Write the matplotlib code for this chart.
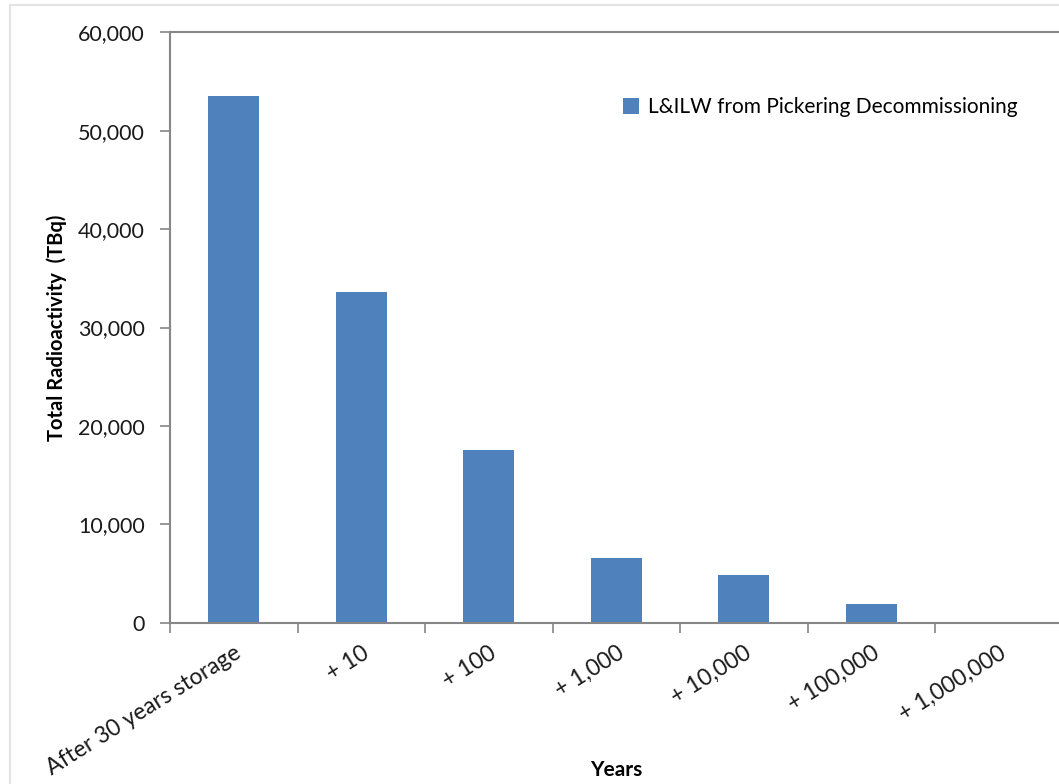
import matplotlib.pyplot as plt
from matplotlib.patches import Rectangle
from matplotlib.ticker import FuncFormatter

periods = ["After 30 years storage", "+ 10", "+ 100", "+ 1,000",
           "+ 10,000", "+ 100,000", "+ 1,000,000"]
activity = [53500, 33600, 17600, 6600, 4900, 1900, 100]  # TBq
series_name = "L&ILW from Pickering Decommissioning"

plt.rcParams['font.family'] = ['Lato', 'DejaVu Sans']
axis_grey = '#868686'

fig = plt.figure(figsize=(10.59, 7.84), dpi=100)
ax = fig.add_axes([0.1605, 0.2054, 0.843, 0.7536])

x = range(len(periods))
ax.bar(x, activity, width=0.4, color='#4F81BD', label=series_name)

ax.set_xlim(-0.5, len(periods) - 0.5)
ax.set_ylim(0, 60000)
ax.set_yticks(range(0, 60001, 10000))
ax.yaxis.set_major_formatter(FuncFormatter(lambda v, p: f"{int(v):,}"))

# category labels centred on bars, ticks between categories
ax.set_xticks(list(x))
ax.set_xticklabels(periods, rotation=32, ha='right', rotation_mode='anchor',
                   fontsize=16.5, color='#1a1a1a')
ax.tick_params(axis='x', which='major', length=0, pad=14)
ax.set_xticks([i - 0.5 for i in range(len(periods) + 1)], minor=True)
ax.tick_params(axis='x', which='minor', length=7, color=axis_grey, width=1.2)
ax.tick_params(axis='y', length=7, color=axis_grey, width=1.2,
               labelsize=15.5, labelcolor='#1a1a1a', pad=11)

for side in ('left', 'bottom', 'top'):
    ax.spines[side].set_color(axis_grey)
    ax.spines[side].set_linewidth(1.5)
ax.spines['right'].set_visible(False)

ax.set_ylabel("Total Radioactivity  (TBq)", fontsize=14.5, fontweight='bold',
              labelpad=8)
ax.set_xlabel("Years", fontsize=15, fontweight='bold')
ax.xaxis.set_label_coords(0.5, -0.232)

ax.legend(loc='upper left', bbox_to_anchor=(0.486, 0.922), frameon=False,
          fontsize=15, handlelength=0.8, handleheight=0.8, handletextpad=0.4)

# thin outer chart border
fig.patches.append(Rectangle((0.0095, -0.01), 1.0, 1.004, transform=fig.transFigure,
                             fill=False, edgecolor='#e3e3e3', linewidth=1.5))

fig.savefig("out.png", dpi=100)
